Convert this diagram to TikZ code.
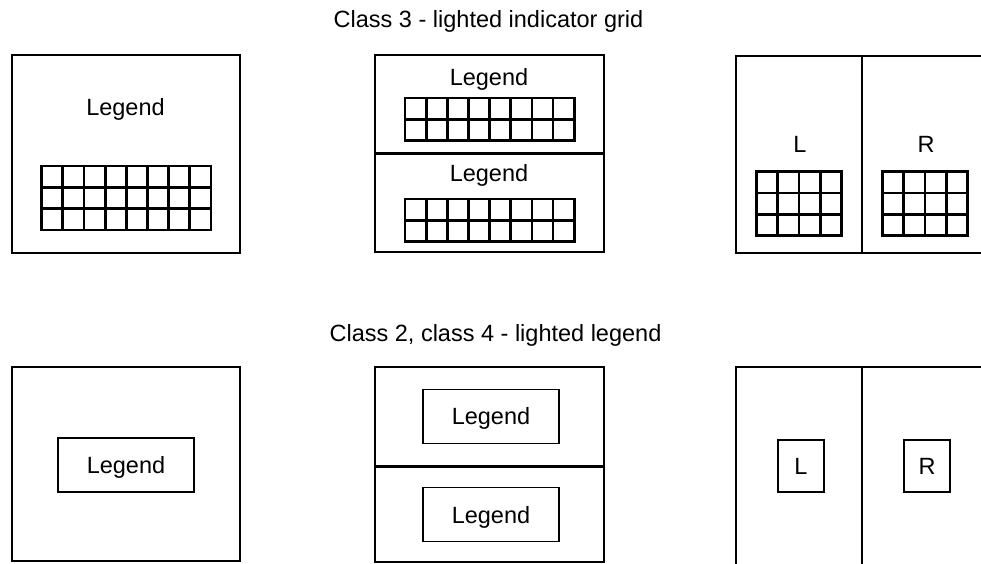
\documentclass[tikz,border=0pt]{standalone}
\usepackage{fontspec}
\setmainfont{Liberation Sans}
\usetikzlibrary{positioning}

% indicator grid: top-left corner, columns, rows
\newcommand{\lampgrid}[4]{%
  \foreach \c in {0,...,#3}
    \draw[gridline] (#1+\c*21.15,#2) -- ++(0,#4*21.3);
  \foreach \r in {0,...,#4}
    \draw[gridline] (#1,#2+\r*21.3) -- ++(#3*21.15,0);
}

\begin{document}
\begin{tikzpicture}[
    x=1pt, y=-1pt,
    font=\fontsize{23.5}{27}\selectfont,
    panel/.style={draw, line width=2pt, inner sep=0pt},
    divider/.style={line width=2.5pt},
    gridline/.style={line width=2.8pt, line cap=rect},
    lbox/.style={
        draw,
        line width=1.5pt,
        minimum height=54pt,
        text height=16.8pt,
        text depth=0pt
    },
    heading/.style={anchor=base}
]
\path[use as bounding box, clip] (0,0) rectangle (981,563);

% ============================================================
% CLASS 3
% ============================================================
\node[heading] (title3) at (488.5,27) {Class 3 - lighted indicator grid};

\node[panel, minimum width=228pt, minimum height=198pt] (single3) at (126,154) {};
\node[heading] (leg3a) at (125.5,115) {Legend};
\lampgrid{41.7}{166}{8}{3}

\node[panel, minimum width=229pt, minimum height=197pt] (double3) at (489.5,153.5) {};
\draw[divider] (double3.west) -- (double3.east);
\node[heading] (leg3b) at (489,85) {Legend};
\node[heading] (leg3c) at (489,181.7) {Legend};
\lampgrid{405}{98}{8}{2}
\lampgrid{405}{199}{8}{2}

\node[panel, minimum width=252pt, minimum height=197pt] (split3) at (862,154.5) {};
\draw[divider] (split3.north) -- (split3.south);
\node[heading] (left3) at (800,152.7) {L};
\node[heading] (right3) at (926,152.7) {R};
\lampgrid{756.7}{171.7}{4}{3}
\lampgrid{882.7}{171.7}{4}{3}

% ============================================================
% CLASS 2, CLASS 4
% ============================================================
\node[heading] (title24) at (495.5,341.7) {Class 2, class 4 - lighted legend};

\node[panel, minimum width=228pt, minimum height=194pt] (single24) at (126,464) {};
\node[lbox, minimum width=136pt] (leg24a) at (126,465) {Legend};

\node[panel, minimum width=229pt, minimum height=195pt] (double24) at (489.5,464.5) {};
\draw[divider] ([yshift=-2pt]double24.west) -- ([yshift=-2pt]double24.east);
\node[lbox, minimum width=136pt] (leg24b) at (491,416.5) {Legend};
\node[lbox, minimum width=136pt] (leg24c) at (491,514.7) {Legend};

\node[panel, minimum width=252pt, minimum height=199pt] (split24) at (862,466.5) {};
\draw[divider] (split24.north) -- (split24.south);
\node[lbox, minimum width=46pt, minimum height=52pt] (left24) at (801,466) {L};
\node[lbox, minimum width=46pt, minimum height=52pt] (right24) at (927,466) {R};

\end{tikzpicture}
\end{document}
